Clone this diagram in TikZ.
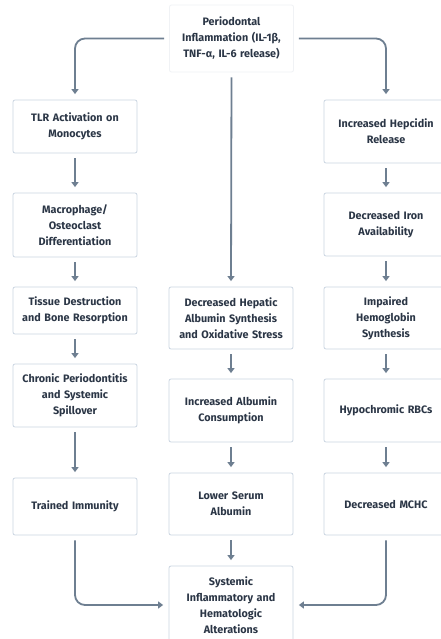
\documentclass[tikz,border=0pt]{standalone}
\usepackage{fontspec}
\setmainfont{Fira Sans}
\usetikzlibrary{arrows.meta}
\definecolor{inktext}{HTML}{2B3646}
\definecolor{boxline}{HTML}{CBD5E1}
\definecolor{topline}{HTML}{F0F2F5}
\definecolor{flowgray}{HTML}{6E7F91}
\tikzset{
	stage/.style={draw=boxline, line width=0.8pt, rounded corners=2pt, fill=white, text=inktext, text width=114pt, inner sep=5pt, align=center, font=\fontsize{10.8}{16}\selectfont\bfseries},
	flow/.style={draw=flowgray, line width=1.8pt, -{Triangle[width=7pt,length=5pt]}, shorten <=5pt, shorten >=5.5pt, rounded corners=10pt}
}
\begin{document}
\begin{tikzpicture}[x=1pt, y=-1pt]
	\useasboundingbox[fill=white] (0,0) rectangle (440,639);
	% Source
	\node [stage, draw=topline, minimum height=67pt] (source) at (231.5, 38.5) {Periodontal\\Inflammation (IL-1β,\\TNF-α, IL-6 release)};
	% Left column
	\node [stage, minimum height=53pt] (left-1) at (75, 126.5) {TLR Activation on\\Monocytes};
	\node [stage, minimum height=64pt] (left-2) at (75, 225) {Macrophage/\\Osteoclast\\Differentiation};
	\node [stage, minimum height=47pt] (left-3) at (75, 310.5) {Tissue Destruction\\and Bone Resorption};
	\node [stage, minimum height=63pt] (left-4) at (75, 395.5) {Chronic Periodontitis\\and Systemic\\Spillover};
	\node [stage, minimum height=57pt] (left-5) at (75, 506.5) {Trained Immunity};
	% Middle column
	\node [stage, minimum height=62pt] (mid-1) at (231, 318) {Decreased Hepatic\\Albumin Synthesis\\and Oxidative Stress};
	\node [stage, minimum height=63pt] (mid-2) at (231, 410.5) {Increased Albumin\\Consumption};
	\node [stage, minimum height=62pt] (mid-3) at (231, 504) {Lower Serum\\Albumin};
	% Right column
	\node [stage, minimum height=63pt] (right-1) at (386, 131.5) {Increased Hepcidin\\Release};
	\node [stage, minimum height=63pt] (right-2) at (386, 224.5) {Decreased Iron\\Availability};
	\node [stage, minimum height=62pt] (right-3) at (386, 318) {Impaired\\Hemoglobin\\Synthesis};
	\node [stage, minimum height=63pt] (right-4) at (386, 410.5) {Hypochromic RBCs};
	\node [stage, minimum height=62pt] (right-5) at (386, 504) {Decreased MCHC};
	% Outcome
	\node [stage, minimum height=78pt] (sink) at (231, 605) {Systemic\\Inflammatory and\\Hematologic\\Alterations};
	% Source arrows
	\draw [flow] (source.west) -| (left-1.north);
	\draw [flow] (source.east) -| (right-1.north);
	\draw [flow] (source.south) -- (mid-1.north);
	% Column arrows
	\foreach \a [count=\b from 2] in {1, 2, 3, 4}
		\draw [flow] (left-\a.south) -- (left-\b.north);
	\foreach \a [count=\b from 2] in {1, 2, 3, 4}
		\draw [flow] (right-\a.south) -- (right-\b.north);
	\foreach \a [count=\b from 2] in {1, 2}
		\draw [flow] (mid-\a.south) -- (mid-\b.north);
	% Outcome arrows
	\draw [flow] (mid-3.south) -- (sink.north);
	\draw [flow] (left-5.south) |- (sink.west);
	\draw [flow] (right-5.south) |- (sink.east);
\end{tikzpicture}
\end{document}
